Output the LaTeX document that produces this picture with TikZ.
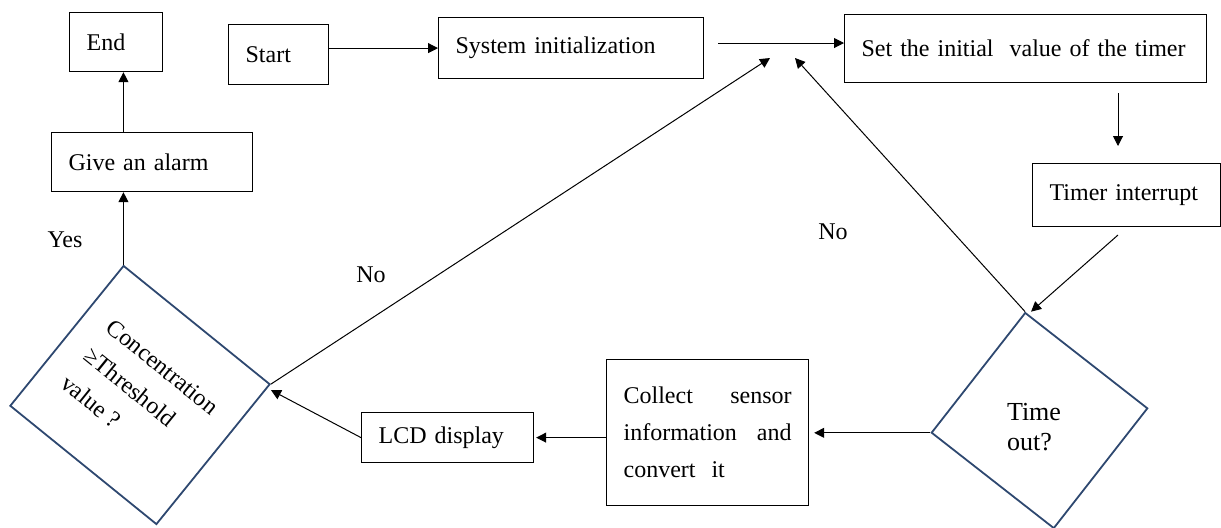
\documentclass[tikz,border=0pt]{standalone}
\usepackage{fontspec}
\setmainfont{Liberation Serif}
\usepackage{tikz}
\usetikzlibrary{arrows.meta}
\definecolor{diamond_blue}{RGB}{46,72,112}

\begin{document}
\begin{tikzpicture}[x=0.5pt,y=-0.5pt,
	box_node/.style={draw,rectangle,anchor=north west,inner xsep=8.5pt,inner ysep=0pt,align=left,line width=0.6pt,font=\fontsize{12}{18.5}\selectfont},
	decision_node/.style={draw=diamond_blue,rectangle,line width=0.9pt,inner sep=0pt},
	flow_arrow/.style={-{Triangle[length=5pt,width=5pt]},line width=0.5pt},
	text_node/.style={font=\fontsize{12}{14}\selectfont}]
	\useasboundingbox (0,0) rectangle (1221,527);
	% boxes
	\node[box_node,minimum height=29.5pt,text width=29.5pt] (end) at (69,12) {End};
	\node[box_node,minimum height=30pt,text width=33pt] (start) at (228,24) {Start};
	\node[box_node,minimum height=30.5pt,text width=115.5pt] (sys) at (438,17) {System initialization};
	\node[box_node,minimum height=34pt,text width=164pt] (set) at (844,14) {Set the initial\ \ value of the timer};
	\node[box_node,minimum height=31.5pt,text width=77pt] (timer) at (1032,163) {Timer interrupt};
	\node[box_node,minimum height=29.5pt,text width=83.5pt] (give) at (51,132) {Give an alarm};
	\node[box_node,minimum height=25pt,text width=69pt] (lcd) at (361,412) {LCD display};
	\node[box_node,minimum height=73pt,text width=84pt] (collect) at (606,359) {Collect \hfill sensor\\information \hfill and\\convert\ \ it};
	% decisions
	\node[decision_node,rotate=-39,minimum width=94pt,minimum height=90pt,align=left,font=\fontsize{12}{18}\selectfont] (cond) at (140,395) {Concentration\\≥Threshold\\value ?};
	\node[decision_node,rotate=-38,minimum width=77.5pt,minimum height=76pt] (timeout) at (1039.5,420.5) {};
	\node[align=left,font=\fontsize{13}{15}\selectfont] (timeout_text) at (1034,427) {Time\\out?};
	% loose ends
	\coordinate (sys_out) at (718,43);
	\coordinate (set_out) at (1118,93);
	\coordinate (timer_in) at (1118,146);
	\coordinate (timer_out) at (1118,235);
	\coordinate (no_left) at (770,58);
	\coordinate (no_right) at (795,58);
	% arrows
	\draw[flow_arrow] (start.east |- sys.west) -- (sys.west);
	\draw[flow_arrow] (sys_out) -- (set.west |- sys_out);
	\draw[flow_arrow] (set_out) -- (timer_in);
	\draw[flow_arrow] (timer_out) -- ([xshift=3pt]timeout.north west);
	\draw[flow_arrow] (timeout.north west) -- (no_right);
	\draw[flow_arrow,shorten >=2.5pt] (timeout.south west) -- (timeout.south west -| collect.east);
	\draw[flow_arrow] (collect.west |- lcd.east) -- ([xshift=1pt]lcd.east);
	\draw[flow_arrow] (lcd.west) -- ([yshift=-3pt]cond.north east);
	\draw[flow_arrow] (cond.north east) -- (no_left);
	\draw[flow_arrow] (cond.north west) -- (cond.north west |- give.south);
	\draw[flow_arrow] (cond.north west |- give.north) -- (cond.north west |- end.south);
	% labels
	\node[text_node] (yes) at (65,240) {Yes};
	\node[text_node] (no_1) at (371,275) {No};
	\node[text_node] (no_2) at (833,232) {No};
\end{tikzpicture}
\end{document}
